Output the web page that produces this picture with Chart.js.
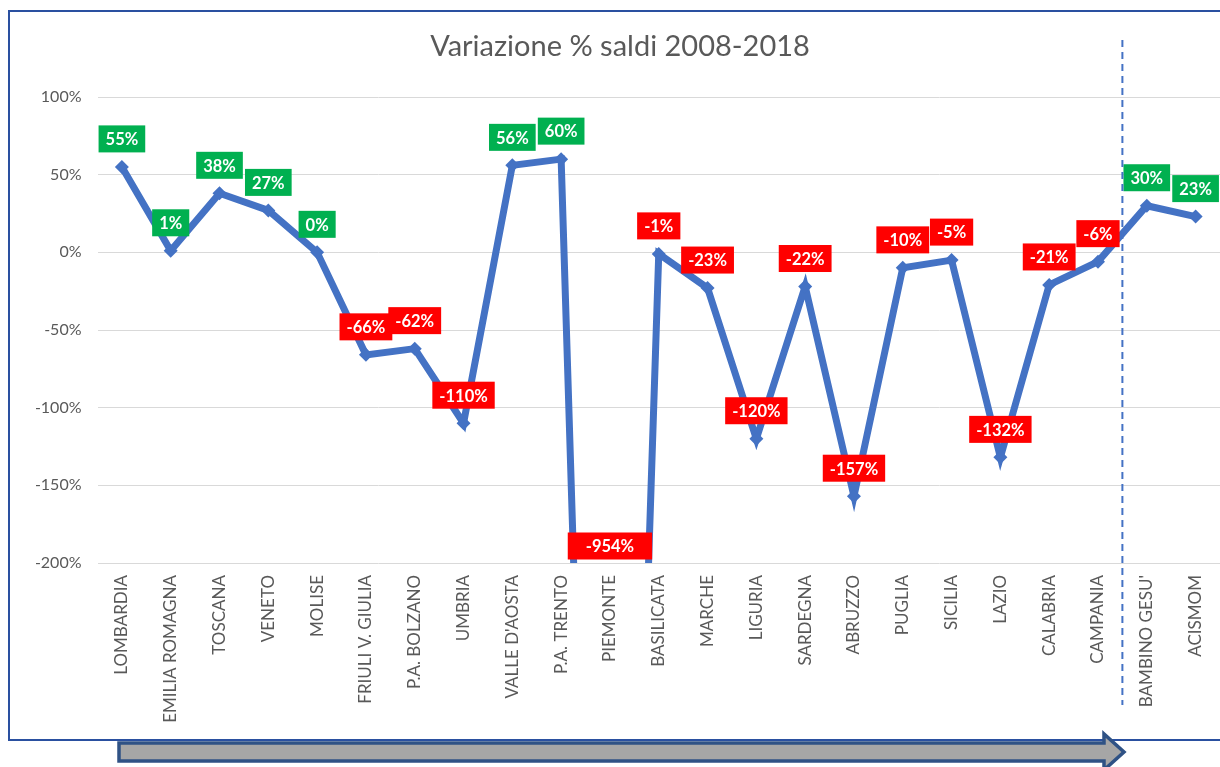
<!DOCTYPE html>
<html>
<head>
<meta charset="utf-8">
<script src="https://cdn.jsdelivr.net/npm/chart.js@4.4.1/dist/chart.umd.min.js"></script>
<style>
  html, body { margin: 0; padding: 0; background: #fff; overflow: hidden; }
  .frame { position: absolute; left: 8px; top: 10px; width: 1240px; height: 727px; border: 2px solid #2a50a0; border-right: none; }
  .wrap { position: absolute; left: 0; top: 0; width: 1220px; height: 767px; }
</style>
</head>
<body>
<div class="frame"></div>
<div class="wrap"><canvas id="chart"></canvas></div>
<script>
/* ======================================================================
DATA
====================================================================== */
const regions = ['LOMBARDIA', 'EMILIA ROMAGNA', 'TOSCANA', 'VENETO', 'MOLISE',
  'FRIULI V. GIULIA', 'P.A. BOLZANO', 'UMBRIA', "VALLE D'AOSTA", 'P.A. TRENTO',
  'PIEMONTE', 'BASILICATA', 'MARCHE', 'LIGURIA', 'SARDEGNA', 'ABRUZZO',
  'PUGLIA', 'SICILIA', 'LAZIO', 'CALABRIA', 'CAMPANIA', "BAMBINO GESU'", 'ACISMOM'];
const saldi = [55, 1, 38, 27, 0, -66, -62, -110, 56, 60, -954, -1, -23, -120,
  -22, -157, -10, -5, -132, -21, -6, 30, 23];
const yMin = -200;
const yMax = 100;
const yStep = 50;
// last regional entry before the separator
const lastRegion = 'CAMPANIA';

/* ======================================================================
Plugins
====================================================================== */
const FONT = 'Lato, "Open Sans", sans-serif';

const labelBoxes = {
  id: 'labelBoxes',
  afterDatasetsDraw(chart) {
    const { ctx, chartArea } = chart;
    const meta = chart.getDatasetMeta(0);
    ctx.save();
    ctx.font = 'bold 16.5px ' + FONT;
    ctx.textAlign = 'center';
    ctx.textBaseline = 'middle';
    meta.data.forEach((pt, i) => {
      const v = saldi[i];
      const text = v + '%';
      let y = pt.y - 28;
      let w = ctx.measureText(text).width + 14;
      if (y > chartArea.bottom - 17) {
        // point is off the scale: label sits on the bottom of the plot
        y = chartArea.bottom - 17;
        w += 22;
      }
      const h = 27;
      ctx.fillStyle = v >= 0 ? '#00b050' : '#ff0000';
      ctx.fillRect(pt.x - w / 2, y - h / 2, w, h);
      ctx.fillStyle = '#ffffff';
      ctx.fillText(text, pt.x, y + 1);
    });
    ctx.restore();
  }
};

const extras = {
  id: 'extras',
  afterDraw(chart) {
    const { ctx } = chart;
    const x = chart.scales.x;
    const i = regions.indexOf(lastRegion);
    const sepX = (x.getPixelForValue(i) + x.getPixelForValue(i + 1)) / 2;
    ctx.save();
    // dashed separator
    ctx.strokeStyle = '#4472c4';
    ctx.lineWidth = 2;
    ctx.setLineDash([7, 5]);
    ctx.beginPath();
    ctx.moveTo(sepX, 40);
    ctx.lineTo(sepX, 705);
    ctx.stroke();
    ctx.setLineDash([]);
    // grey arrow under the frame
    ctx.beginPath();
    ctx.moveTo(119, 743);
    ctx.lineTo(1104, 743);
    ctx.lineTo(1104, 734);
    ctx.lineTo(1124, 752);
    ctx.lineTo(1104, 770);
    ctx.lineTo(1104, 761);
    ctx.lineTo(119, 761);
    ctx.closePath();
    ctx.fillStyle = '#a6a6a6';
    ctx.fill();
    ctx.strokeStyle = '#2f5285';
    ctx.lineWidth = 3.5;
    ctx.lineJoin = 'miter';
    ctx.stroke();
    ctx.restore();
  }
};

/* ======================================================================
Chart
====================================================================== */
const canvas = document.getElementById('chart');

let saldiData = {
  labels: regions,
  datasets: [{
    data: saldi,
    borderColor: '#4472c4',
    backgroundColor: '#4472c4',
    borderWidth: 7,
    pointStyle: 'rectRot',
    pointRadius: 7,
    pointBorderWidth: 0,
    pointBackgroundColor: '#4472c4',
    tension: 0
  }]
};

let saldiOptions = {
  responsive: true,
  maintainAspectRatio: false,
  animation: false,
  layout: { autoPadding: false, padding: { top: 0, left: 20, right: 0, bottom: 0 } },
  plugins: {
    legend: { display: false },
    tooltip: { enabled: false },
    title: {
      display: true,
      text: 'Variazione % saldi 2008-2018',
      color: '#595959',
      font: { family: FONT, size: 29, weight: 'normal', lineHeight: 1.2 },
      padding: { top: 29, bottom: 33.2 }
    }
  },
  scales: {
    x: {
      offset: true,
      grid: { display: false, drawTicks: false },
      border: { display: false },
      ticks: {
        color: '#595959',
        font: { family: FONT, size: 17 },
        minRotation: 90,
        maxRotation: 90,
        autoSkip: false,
        padding: 12
      },
      afterFit(scale) {
        scale.height = 204;
        scale.paddingLeft = 0;
        scale.paddingRight = 0;
      }
    },
    y: {
      min: yMin,
      max: yMax,
      grid: { color: '#d9d9d9', lineWidth: 1, drawTicks: false },
      border: { display: false },
      ticks: {
        stepSize: yStep,
        color: '#595959',
        font: { family: FONT, size: 16 },
        padding: 16,
        callback: v => v + '%'
      },
      afterFit(scale) { scale.width = 77.5; }
    }
  }
};

let saldiChart = new Chart(canvas, {
  type: 'line',
  data: saldiData,
  options: saldiOptions,
  plugins: [labelBoxes, extras]
});
</script>
</body>
</html>
